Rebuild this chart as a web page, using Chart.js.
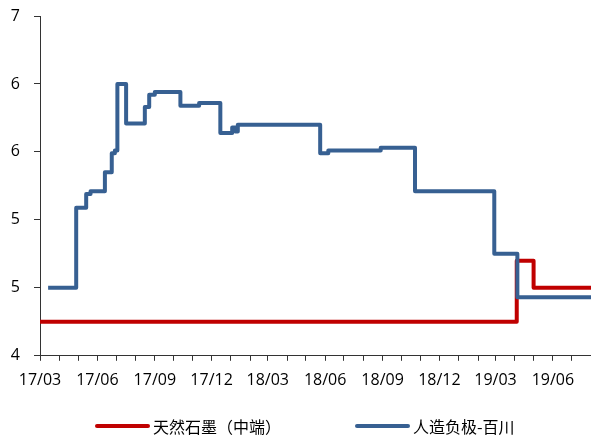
<!DOCTYPE html>
<html>
<head>
<meta charset="utf-8">
<script src="https://cdn.jsdelivr.net/npm/chart.js@4/dist/chart.umd.min.js"></script>
<style>
  html, body { margin: 0; padding: 0; background: #fff; }
  #wrap { position: relative; width: 591px; height: 437px; }
  #legend {
    position: absolute; left: 0; top: 414px; width: 591px; height: 24px;
    font: 16px "Noto Sans CJK SC", sans-serif; color: #000;
  }
  .item { position: absolute; top: 0; height: 24px; line-height: 24px; white-space: nowrap; }
  .swatch { position: absolute; top: 10px; width: 55px; height: 4px; border-radius: 2px; }
  .label { position: absolute; left: 58px; top: 0; }
</style>
</head>
<body>
<div id="wrap">
  <canvas id="c" width="591" height="437"></canvas>
  <div id="legend"></div>
</div>
<script>
// Natural graphite (mid-grade): date each price level starts, and the level
const naturalDates  = ['2017-03-01', '2019-04-04', '2019-05-01', '2019-08-01'];
const naturalValues = [4.25, 4.70, 4.50, 4.50];

// Synthetic anode (Baichuan): date each price level starts, and the level
const syntheticDates = [
  '2017-03-14', '2017-04-28', '2017-05-14', '2017-05-21', '2017-06-13',
  '2017-06-24', '2017-06-29', '2017-07-03', '2017-07-17', '2017-08-16',
  '2017-08-23', '2017-09-01', '2017-10-12', '2017-11-11', '2017-12-15',
  '2018-01-03', '2018-01-08', '2018-01-12', '2018-05-24', '2018-06-06',
  '2018-08-29', '2018-10-23', '2019-02-27', '2019-04-05', '2019-08-01'
];
const syntheticValues = [
  4.50, 5.09, 5.19, 5.21, 5.35,
  5.49, 5.51, 6.00, 5.71, 5.83,
  5.92, 5.94, 5.84, 5.86, 5.64,
  5.68, 5.65, 5.70, 5.49, 5.51,
  5.53, 5.21, 4.75, 4.43, 4.43
];

const seriesNames = ['天然石墨（中端）', '人造负极-百川'];
const seriesColors = ['#C00000', '#376092'];

// Axis range and tick settings
const axisStart = '2017-03-01';
const axisEnd = '2019-08-01';
const yMin = 4, yMax = 6.5, yStep = 0.5;
const labelMonths = [3, 6, 9, 12];

const DAY = 86400000;
function toDate(s) { const p = s.split('-').map(Number); return Date.UTC(p[0], p[1] - 1, p[2]); }
const origin = toDate(axisStart);
function dayIndex(s) { return (toDate(s) - origin) / DAY; }

function points(dates, values) {
  return dates.map((d, i) => ({ x: dayIndex(d), y: values[i] }));
}

// first day of every month across the axis
const monthTicks = [];
(function () {
  let d = new Date(origin);
  const end = toDate(axisEnd);
  while (d.getTime() <= end) {
    monthTicks.push({ value: (d.getTime() - origin) / DAY, y: d.getUTCFullYear(), m: d.getUTCMonth() + 1 });
    d = new Date(Date.UTC(d.getUTCFullYear(), d.getUTCMonth() + 1, 1));
  }
})();

const fontFamily = '"Open Sans", "Noto Sans", sans-serif';
const axisColor = '#333333';

// keep the plot area flush with the layout padding
function noEdgePadding(scale) {
  scale.paddingLeft = 0;
  scale.paddingRight = 0;
  scale.paddingTop = 0;
  scale.paddingBottom = 0;
}

const chart = new Chart(document.getElementById('c'), {
  type: 'line',
  data: {
    datasets: [
      {
        label: seriesNames[1],
        data: points(syntheticDates, syntheticValues),
        borderColor: seriesColors[1],
        backgroundColor: seriesColors[1],
        borderWidth: 4,
        pointRadius: 0,
        stepped: true,
        fill: false,
        borderJoinStyle: 'round'
      },
      {
        label: seriesNames[0],
        data: points(naturalDates, naturalValues),
        borderColor: seriesColors[0],
        backgroundColor: seriesColors[0],
        borderWidth: 4,
        pointRadius: 0,
        stepped: true,
        fill: false,
        borderJoinStyle: 'round'
      }
    ]
  },
  options: {
    responsive: false,
    animation: false,
    layout: { autoPadding: false, padding: { left: 11, right: 0, top: 16, bottom: 37 } },
    plugins: { legend: { display: false }, tooltip: { enabled: false } },
    scales: {
      x: {
        type: 'linear',
        min: 0,
        max: dayIndex(axisEnd),
        afterBuildTicks: (scale) => {
          scale.ticks = monthTicks.map(t => ({ value: t.value }));
        },
        afterFit: noEdgePadding,
        grid: { drawOnChartArea: false, tickLength: 5, color: axisColor },
        border: { color: axisColor, width: 1 },
        ticks: {
          autoSkip: false,
          maxRotation: 0,
          padding: 10,
          color: '#000',
          font: { family: fontFamily, size: 16 },
          callback: (value) => {
            const t = monthTicks.find(k => Math.abs(k.value - value) < 0.5);
            if (!t || labelMonths.indexOf(t.m) < 0) return '';
            return String(t.y).slice(2) + '/' + String(t.m).padStart(2, '0');
          }
        }
      },
      y: {
        min: yMin,
        max: yMax,
        afterFit: (scale) => { noEdgePadding(scale); scale.width = 29; },
        grid: { drawOnChartArea: false, tickLength: 6, color: axisColor },
        border: { color: axisColor, width: 1 },
        ticks: {
          stepSize: yStep,
          padding: 14,
          color: '#000',
          font: { family: fontFamily, size: 16 },
          callback: (v) => String(Math.round(v))
        }
      }
    }
  }
});

// legend row under the axis
const legendPos = [95, 355];
const legend = document.getElementById('legend');
seriesNames.forEach((name, i) => {
  const item = document.createElement('div');
  item.className = 'item';
  item.style.left = legendPos[i] + 'px';
  const sw = document.createElement('span');
  sw.className = 'swatch';
  sw.style.background = seriesColors[i];
  const lb = document.createElement('span');
  lb.className = 'label';
  lb.textContent = name;
  item.appendChild(sw);
  item.appendChild(lb);
  legend.appendChild(item);
});
</script>
</body>
</html>
